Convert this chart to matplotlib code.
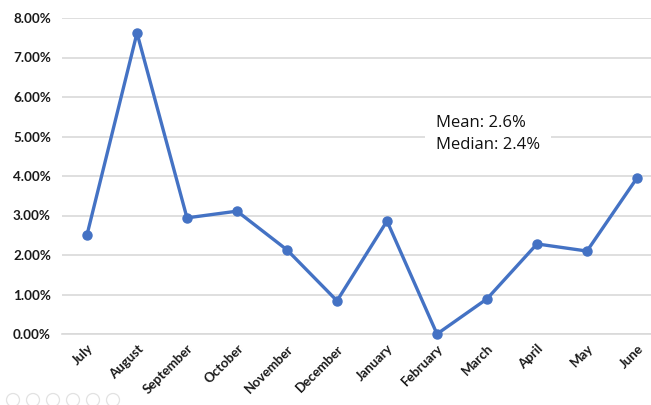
import matplotlib
matplotlib.use("Agg")
import matplotlib.pyplot as plt
from matplotlib.ticker import FuncFormatter
from matplotlib.patches import Ellipse

months = ["July", "August", "September", "October", "November", "December",
          "January", "February", "March", "April", "May", "June"]
rates = [2.51, 7.62, 2.94, 3.11, 2.13, 0.84, 2.86, 0.00, 0.89, 2.28, 2.10, 3.95]
y_ticks = [0, 1, 2, 3, 4, 5, 6, 7, 8]
summary = "Mean: 2.6%\nMedian: 2.4%"

plt.rcParams["font.family"] = ["Lato", "DejaVu Sans"]

W, H = 651, 405
fig = plt.figure(figsize=(W / 100, H / 100), dpi=100)
left, right, bottom, top = 62, 651, 334, 18
ax = fig.add_axes([left / W, (H - bottom) / H, (right - left) / W, (bottom - top) / H])

x = list(range(len(months)))
ax.plot(x, rates, color="#4472C4", lw=2.4, marker="o", ms=6.5, clip_on=False, zorder=3)

ax.set_ylim(0, 8)
ax.set_xlim(-0.5, -0.5 + (right - left) / 50)
ax.set_yticks(y_ticks)
ax.yaxis.set_major_formatter(FuncFormatter(lambda v, p: f"{v:.2f}%"))
ax.grid(axis="y", color="#D9D9D9", lw=1.2, zorder=0)
ax.set_axisbelow(True)
for s in ["top", "right", "left"]:
    ax.spines[s].set_visible(False)
ax.spines["bottom"].set_color("#D9D9D9")
ax.spines["bottom"].set_linewidth(1.2)

ax.set_xticks(x)
ax.set_xticklabels(months, rotation=45, ha="right", rotation_mode="anchor",
                   fontsize=9.5, fontweight="bold", color="#1a1a1a")
ax.tick_params(axis="both", length=0)
ax.tick_params(axis="x", pad=6)
ax.tick_params(axis="y", pad=8)
for lab in ax.get_yticklabels():
    lab.set_fontsize(9.7)
    lab.set_fontweight("bold")
    lab.set_color("#1a1a1a")

fig.text(436 / W, (H - 134) / H, summary, fontsize=12, color="#111111",
         family=["Open Sans", "DejaVu Sans"],
         va="center", ha="left", linespacing=1.45,
         bbox=dict(boxstyle="square,pad=0.65", fc="white", ec="none"))

# faint slide-show control buttons in the lower left corner
for cx in [13, 33, 53, 73, 93, 113]:
    fig.add_artist(Ellipse((cx / W, (H - 400) / H), 13 / W, 13 / H,
                           transform=fig.transFigure,
                           fill=False, ec="#E2E2E2", lw=0.9))

fig.savefig("out.png", dpi=100, facecolor="white")
